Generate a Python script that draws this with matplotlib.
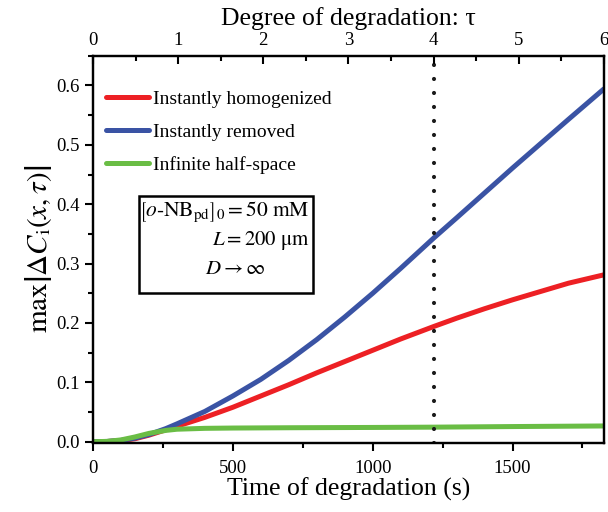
import matplotlib
matplotlib.use("Agg")
import matplotlib.pyplot as plt
from matplotlib.ticker import MultipleLocator
from matplotlib.patches import Rectangle

plt.rcParams['font.family'] = ['Liberation Serif', 'DejaVu Serif']
plt.rcParams['mathtext.fontset'] = 'stix'

# ---- data ----
t = [0, 50, 100, 150, 200, 260, 300, 400, 500, 600, 700, 800, 900, 1000,
     1100, 1218, 1300, 1400, 1500, 1600, 1700, 1826]
removed = [0, 0.0004, 0.0022, 0.006, 0.012, 0.022, 0.030, 0.051, 0.077, 0.105,
           0.137, 0.172, 0.210, 0.250, 0.292, 0.343, 0.377, 0.419, 0.461,
           0.502, 0.543, 0.594]
homogenized = [0, 0.0003, 0.0018, 0.005, 0.011, 0.020, 0.026, 0.041, 0.058,
               0.077, 0.096, 0.116, 0.135, 0.154, 0.173, 0.194, 0.208, 0.224,
               0.239, 0.253, 0.267, 0.281]
t_half = [0, 50, 100, 150, 200, 260, 300, 400, 500, 700, 1000, 1218, 1500, 1826]
half_space = [0, 0.0005, 0.003, 0.008, 0.014, 0.019, 0.021, 0.0225, 0.023,
              0.0235, 0.024, 0.0245, 0.0255, 0.0265]
tau_marker = 1218          # time at tau = 4
t_max = 1826               # time at tau = 6
tau_max = 6

fig = plt.figure(figsize=(6.08, 5.12), dpi=100)
ax = fig.add_axes([0.153, 0.135, 0.840, 0.756])

red = '#ED2024'
blue = '#3A53A4'
green = '#6ABD45'
lw = 3.6
ax.plot(t, homogenized, color=red, lw=lw, label='Instantly homogenized',
        solid_capstyle='round')
ax.plot(t, removed, color=blue, lw=lw, label='Instantly removed',
        solid_capstyle='round')
ax.plot(t_half, half_space, color=green, lw=lw, label='Infinite half-space',
        solid_capstyle='round')
ax.axvline(tau_marker, color='#1a1a1a', lw=3.0, linestyle=(0, (0.01, 3.35)),
           dash_capstyle='round')

ax.set_xlim(0, t_max)
ax.set_ylim(-0.002, 0.65)
ax.xaxis.set_major_locator(MultipleLocator(500))
ax.xaxis.set_minor_locator(MultipleLocator(250))
ax.yaxis.set_major_locator(MultipleLocator(0.1))
ax.yaxis.set_minor_locator(MultipleLocator(0.05))
ax.yaxis.set_major_formatter(matplotlib.ticker.FormatStrFormatter('%.1f'))
ax.tick_params(which='major', direction='out', length=6, width=1.5,
               labelsize=13.5, right=False)
ax.tick_params(axis='x', which='major', pad=6)
ax.tick_params(which='minor', direction='out', length=3.5, width=1.5, right=False)
for s in ax.spines.values():
    s.set_linewidth(1.6)

ax.set_xlabel('Time of degradation (s)', fontsize=18.5, labelpad=1)
ax.set_ylabel(r'$\mathrm{max}\left|\Delta C_{\mathrm{i}}(x,\tau)\right|$',
              fontsize=21, labelpad=2)

ax2 = ax.twiny()
ax2.set_xlim(0, tau_max)
ax2.xaxis.set_major_locator(MultipleLocator(1))
ax2.xaxis.set_minor_locator(MultipleLocator(0.5))
ax2.tick_params(which='major', direction='in', length=6, width=1.5,
                labelsize=13.5, pad=5)
ax2.tick_params(which='minor', direction='in', length=3.5, width=1.5)
ax2.set_xlabel('Degree of degradation: τ', fontsize=18.5, labelpad=5)
for s in ax2.spines.values():
    s.set_linewidth(1.6)

leg = ax.legend(loc='upper left', frameon=False, fontsize=14,
                handlelength=2.2, handletextpad=0.2, labelspacing=0.78,
                borderaxespad=0.0, bbox_to_anchor=(0.01, 0.93))

ax.add_patch(Rectangle((0.0898, 0.3876), 0.3418, 0.2504, transform=ax.transAxes,
                       fill=False, lw=1.8, ec='black', zorder=5))
ax.text(0.424, 0.594, r'$\left[o\text{-}\mathrm{NB}_{\mathrm{pd}}\right]_{0}=50\ \mathrm{mM}$',
        transform=ax.transAxes, ha='right', va='center', fontsize=15.5)
ax.text(0.424, 0.522, r'$L=200\ \mathrm{\mu m}$',
        transform=ax.transAxes, ha='right', va='center', fontsize=15)
ax.text(0.279, 0.447, r'$D\rightarrow\infty$',
        transform=ax.transAxes, ha='center', va='center', fontsize=15)

fig.savefig('out.png', dpi=100)
